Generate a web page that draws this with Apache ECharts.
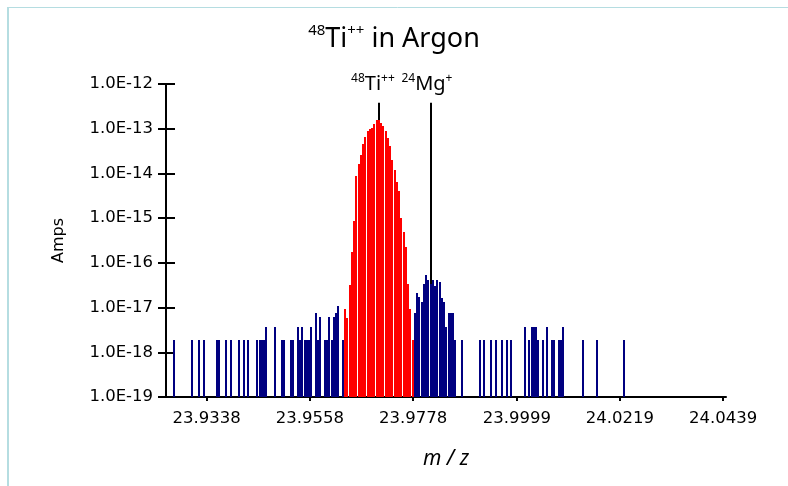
<!DOCTYPE html>
<html><head><meta charset="utf-8">
<script src="https://cdn.jsdelivr.net/npm/echarts@6/dist/echarts.min.js"></script>
<style>html,body{margin:0;padding:0;background:#fff}#c{width:788px;height:486px}</style>
</head><body><div id="c"></div>
<script>
// ---- data ----
const xTickValues = [23.9338, 23.9558, 23.9778, 23.9999, 24.0219, 24.0439];
const yTickLabels = ['1.0E-19','1.0E-18','1.0E-17','1.0E-16','1.0E-15','1.0E-14','1.0E-13','1.0E-12'];
const binWidth = 0.000479;

const blueMz = [
 23.92690, 23.93073, 23.93217, 23.93313, 23.93600, 23.93648, 23.93792, 23.93888, 23.94079, 23.94175,
 23.94271, 23.94462, 23.94510, 23.94558, 23.94606, 23.94654, 23.94846, 23.94990, 23.95037, 23.95181,
 23.95229, 23.95325, 23.95373, 23.95421, 23.95469, 23.95517, 23.95565, 23.95612, 23.95708, 23.95756,
 23.95804, 23.95900, 23.95948, 23.95996, 23.96044, 23.96092, 23.96140, 23.96187, 23.96283,
 23.97817, 23.97865, 23.97912, 23.97960, 23.98008, 23.98056, 23.98104, 23.98152, 23.98200, 23.98248,
 23.98296, 23.98344, 23.98392, 23.98440, 23.98487, 23.98535, 23.98583, 23.98631, 23.98679,
 23.98823, 23.99206, 23.99302, 23.99446, 23.99542, 23.99685, 23.99781, 23.99877, 24.00165, 24.00260,
 24.00308, 24.00356, 24.00404, 24.00452, 24.00548, 24.00644, 24.00740, 24.00787, 24.00883, 24.00931,
 24.00979, 24.01410, 24.01698, 24.02273
];
const blueAmps = [
 1.88e-18, 1.88e-18, 1.88e-18, 1.88e-18, 1.88e-18, 1.88e-18, 1.88e-18, 1.88e-18, 1.88e-18, 1.88e-18,
 1.88e-18, 1.88e-18, 1.88e-18, 1.88e-18, 1.88e-18, 3.68e-18, 3.68e-18, 1.88e-18, 1.88e-18, 1.88e-18,
 1.88e-18, 3.68e-18, 1.88e-18, 3.68e-18, 1.88e-18, 1.88e-18, 1.88e-18, 3.68e-18, 7.57e-18, 1.88e-18,
 6.16e-18, 1.88e-18, 1.88e-18, 6.16e-18, 1.88e-18, 6.16e-18, 7.57e-18, 1.09e-17, 1.88e-18,
 7.57e-18, 2.12e-17, 1.73e-17, 1.33e-17, 3.37e-17, 5.36e-17, 4.14e-17, 3.37e-17, 4.14e-17, 3.04e-17,
 4.14e-17, 3.74e-17, 1.64e-17, 1.33e-17, 3.68e-18, 7.57e-18, 7.57e-18, 7.57e-18, 1.88e-18,
 1.88e-18, 1.88e-18, 1.88e-18, 1.88e-18, 1.88e-18, 1.88e-18, 1.88e-18, 1.88e-18, 3.68e-18, 1.88e-18,
 3.68e-18, 3.68e-18, 3.68e-18, 1.88e-18, 1.88e-18, 3.68e-18, 1.88e-18, 1.88e-18, 1.88e-18, 1.88e-18,
 3.68e-18, 1.88e-18, 1.88e-18, 1.88e-18
];

const redMz = [
 23.96331, 23.96379, 23.96427, 23.96475, 23.96523, 23.96571, 23.96619, 23.96667, 23.96715, 23.96762,
 23.96810, 23.96858, 23.96906, 23.96954, 23.97002, 23.97050, 23.97098, 23.97146, 23.97194, 23.97242,
 23.97290, 23.97337, 23.97385, 23.97433, 23.97481, 23.97529, 23.97577, 23.97625, 23.97673, 23.97721,
 23.97769
];
const redAmps = [
 9.3e-18, 5.85e-18, 3.2e-17, 1.75e-16, 8.66e-16, 8.79e-15, 1.63e-14, 2.59e-14, 4.57e-14, 6.56e-14,
 8.93e-14, 9.9e-14, 1.04e-13, 1.28e-13, 1.57e-13, 1.57e-13, 1.35e-13, 1.16e-13, 8.93e-14, 6.22e-14,
 4.12e-14, 2.0e-14, 1.2e-14, 6.45e-15, 4.06e-15, 1.01e-15, 4.9e-16, 2.27e-16, 3.37e-17, 9.3e-18,
 1.88e-18
];

const markerMz = [23.97052, 23.98161];
const markerTop = 3.8e-13;
const markerLabels = ['{s|48}{n|Ti}{s|++}', '{s|24}{n|Mg}{s|+}'];
const titleText = '{s|48}{t|Ti}{s|++}{t| in Argon}';
const yMin = 1e-19, yMax = 1e-12;

// ---- chart ----
const chart = echarts.init(document.getElementById('c'), null, {renderer: 'canvas'});

function barRenderer(color) {
  return function (params, api) {
    const x = api.value(0), v = api.value(1);
    const top = api.coord([x, v]);
    const base = api.coord([x, yMin]);
    const l = api.coord([x - binWidth * 0.45, v])[0];
    const r = api.coord([x + binWidth * 0.45, v])[0];
    const w = Math.max(1, Math.round(r - l));
    const left = Math.round(top[0] - w / 2);
    const y0 = Math.round(top[1]);
    return {
      type: 'rect',
      shape: {x: left, y: y0, width: w, height: Math.round(base[1]) - y0},
      style: {fill: color}
    };
  };
}

const black = '#000';

chart.setOption({
  animation: false,
  backgroundColor: '#fff',
  title: {
    text: titleText,
    left: 'center',
    top: 18,
    textStyle: {
      fontWeight: 'normal',
      rich: {
        t: {fontFamily: 'Noto Sans', fontSize: 27, fontWeight: 'normal', color: black, lineHeight: 32},
        s: {fontFamily: 'Noto Sans', fontSize: 15, fontWeight: 'normal', color: black, lineHeight: 14, verticalAlign: 'top'}
      }
    }
  },
  graphic: [
    {type: 'line', shape: {x1: 8, y1: 7, x2: 8, y2: 486}, style: {stroke: '#b5dde1', lineWidth: 2}, silent: true},
    {type: 'line', shape: {x1: 7, y1: 7.5, x2: 788, y2: 7.5}, style: {stroke: '#b5dde1', lineWidth: 1}, silent: true}
  ],
  grid: {left: 166, right: 62, top: 84, bottom: 89, containLabel: false},
  xAxis: {
    type: 'value',
    min: 23.92513,
    max: 24.0445,
    splitLine: {show: false},
    axisLine: {show: true, lineStyle: {color: black, width: 2}},
    axisTick: {show: true, customValues: xTickValues, length: 4, lineStyle: {color: black, width: 2}},
    axisLabel: {
      customValues: xTickValues,
      formatter: v => v.toFixed(4),
      margin: 13,
      fontFamily: 'DejaVu Sans',
      fontSize: 16.5,
      color: black
    },
    name: 'm / z',
    nameLocation: 'middle',
    nameGap: 52,
    nameTextStyle: {fontFamily: 'Noto Sans', fontStyle: 'italic', fontSize: 21, color: black}
  },
  yAxis: [
    {
      type: 'log',
      logBase: 10,
      min: yMin,
      max: yMax,
      splitLine: {show: false},
      axisLine: {show: true, lineStyle: {color: black, width: 2}},
      axisTick: {show: true, length: 8, lineStyle: {color: black, width: 2}},
      axisLabel: {
        formatter: v => yTickLabels[Math.round(Math.log10(v)) + 19],
        margin: 13,
        fontFamily: 'DejaVu Sans',
        fontSize: 16.5,
        color: black
      },
      name: 'Amps',
      nameLocation: 'middle',
      nameGap: 99,
      nameTextStyle: {fontFamily: 'DejaVu Sans', fontSize: 16, color: black}
    },
    {
      type: 'log',
      logBase: 10,
      min: yMin,
      max: yMax,
      position: 'left',
      splitLine: {show: false},
      axisLine: {show: false},
      axisTick: {show: true, inside: true, length: 9, lineStyle: {color: black, width: 2}},
      axisLabel: {show: false}
    }
  ],
  series: [
    {
      type: 'line',
      data: [],
      z: 1,
      markLine: {
        silent: true,
        z: 1,
        symbol: ['none', 'none'],
        lineStyle: {color: black, width: 2, type: 'solid'},
        label: {
          show: true,
          position: 'end',
          distance: 6,
          rich: {
            n: {fontFamily: 'Noto Sans', fontSize: 20, color: black, lineHeight: 24},
            s: {fontFamily: 'Noto Sans', fontSize: 12, color: black, lineHeight: 12, verticalAlign: 'top'}
          }
        },
        data: markerMz.map((m, i) => [
          {coord: [m, yMin], label: {formatter: markerLabels[i], offset: [i === 0 ? -6 : -4, 0]}},
          {coord: [m, markerTop]}
        ])
      }
    },
    {
      type: 'custom',
      z: 3,
      renderItem: barRenderer('#000080'),
      encode: {x: 0, y: 1},
      data: blueMz.map((m, i) => [m, blueAmps[i]])
    },
    {
      type: 'custom',
      z: 3,
      renderItem: barRenderer('#ff0000'),
      encode: {x: 0, y: 1},
      data: redMz.map((m, i) => [m, redAmps[i]])
    }
  ]
});
</script>
</body></html>
